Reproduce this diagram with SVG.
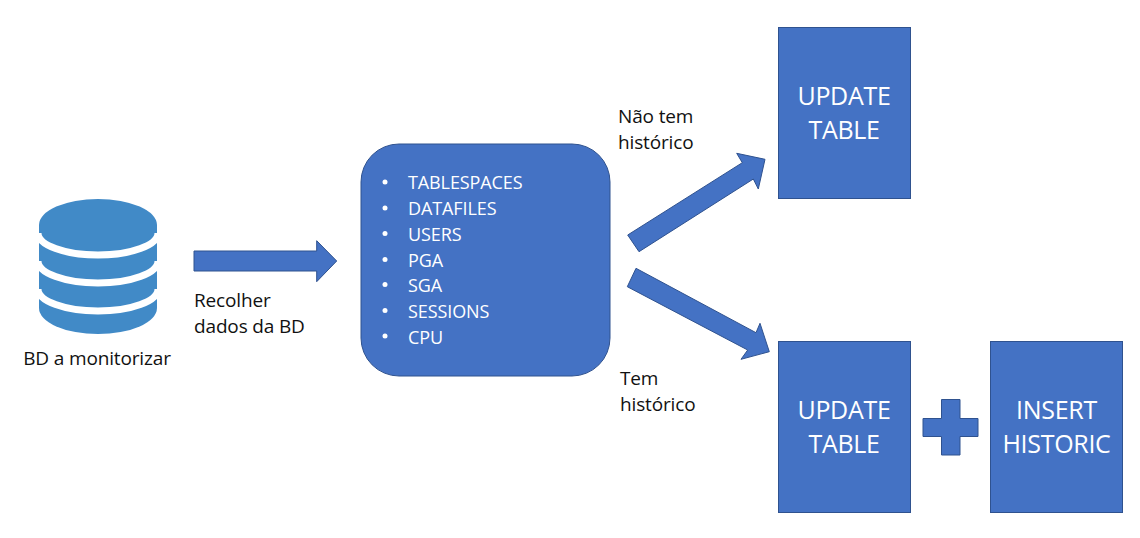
<svg xmlns="http://www.w3.org/2000/svg" width="1140" height="538" viewBox="0 0 1140 538">
<style>
text{font-family:"Open Sans","Noto Sans","Liberation Sans",sans-serif}
.s{fill:#4472C4;stroke:#2F528F;stroke-width:1}
.l{font-size:19px;fill:#111;letter-spacing:-.15px}
.i{font-size:18px;fill:#fff;letter-spacing:-.1px}
.b{font-size:25px;fill:#fff;text-anchor:middle;letter-spacing:-.3px}
.d{fill:#fff}
.r{fill:none;stroke:#fff;stroke-width:7}
</style>
<rect width="1140" height="538" fill="#fff"/>
<g id="db">
<path d="M39 225A59 26 0 0 1 157 225V308A59 26 0 0 1 39 308Z" fill="#418AC7"/>
<path class="r" d="M38 233A60 22 0 0 0 158 233M38 261A60 22 0 0 0 158 261M38 289A60 22 0 0 0 158 289"/>
<text class="l" x="97" y="365" text-anchor="middle">BD a monitorizar</text>
</g>
<g id="connectors">
<path class="s" d="M194 251H316.700V240.700L336.700 261L316.700 281.700V271H194Z"/>
<path class="s" d="M627.700 235L742.300 162.700L736.700 153.300L765 159.300L758.300 189L753.300 179L639 251.700Z"/>
<path class="s" d="M636 268.300L756 332.700L760 323.300L769.300 351.700L741 359.300L747.700 350L627.300 286.700Z"/>
</g>
<g id="label-recolher"><text class="l" x="194" y="307">Recolher</text><text class="l" x="194" y="333">dados da BD</text></g>
<g id="label-nao"><text class="l" x="618" y="123">Não tem</text><text class="l" x="618" y="149">histórico</text></g>
<g id="label-tem"><text class="l" x="620" y="385">Tem</text><text class="l" x="620" y="411">histórico</text></g>
<g id="data">
<rect class="s" x="361" y="144" width="249" height="232" rx="38"/>
<g class="d"><circle cx="385" cy="182" r="2.500"/><circle cx="385" cy="208" r="2.500"/><circle cx="385" cy="233.500" r="2.500"/><circle cx="385" cy="259.500" r="2.500"/><circle cx="385" cy="284.500" r="2.500"/><circle cx="385" cy="310.500" r="2.500"/><circle cx="385" cy="336" r="2.500"/></g>
<text class="i" x="408" y="189">TABLESPACES</text>
<text class="i" x="408" y="214.500">DATAFILES</text>
<text class="i" x="408" y="240.500">USERS</text>
<text class="i" x="408" y="266.500">PGA</text>
<text class="i" x="408" y="291.500">SGA</text>
<text class="i" x="408" y="317.500">SESSIONS</text>
<text class="i" x="408" y="343.500">CPU</text>
</g>
<g id="update-1"><rect class="s" x="778.500" y="27.500" width="132" height="171"/><text class="b" x="844" y="105">UPDATE</text><text class="b" x="844" y="139">TABLE</text></g>
<g id="update-2"><rect class="s" x="778.500" y="341.500" width="132" height="171"/><text class="b" x="844" y="419">UPDATE</text><text class="b" x="844" y="453">TABLE</text></g>
<g id="plus"><path class="s" d="M941.500 399.500H960V418.500H978V436.500H960V455H941.500V436.500H923V418.500H941.500Z"/></g>
<g id="insert"><rect class="s" x="990.500" y="341.500" width="132" height="171"/><text class="b" x="1056.500" y="419">INSERT</text><text class="b" x="1056.500" y="453">HISTORIC</text></g>
</svg>
